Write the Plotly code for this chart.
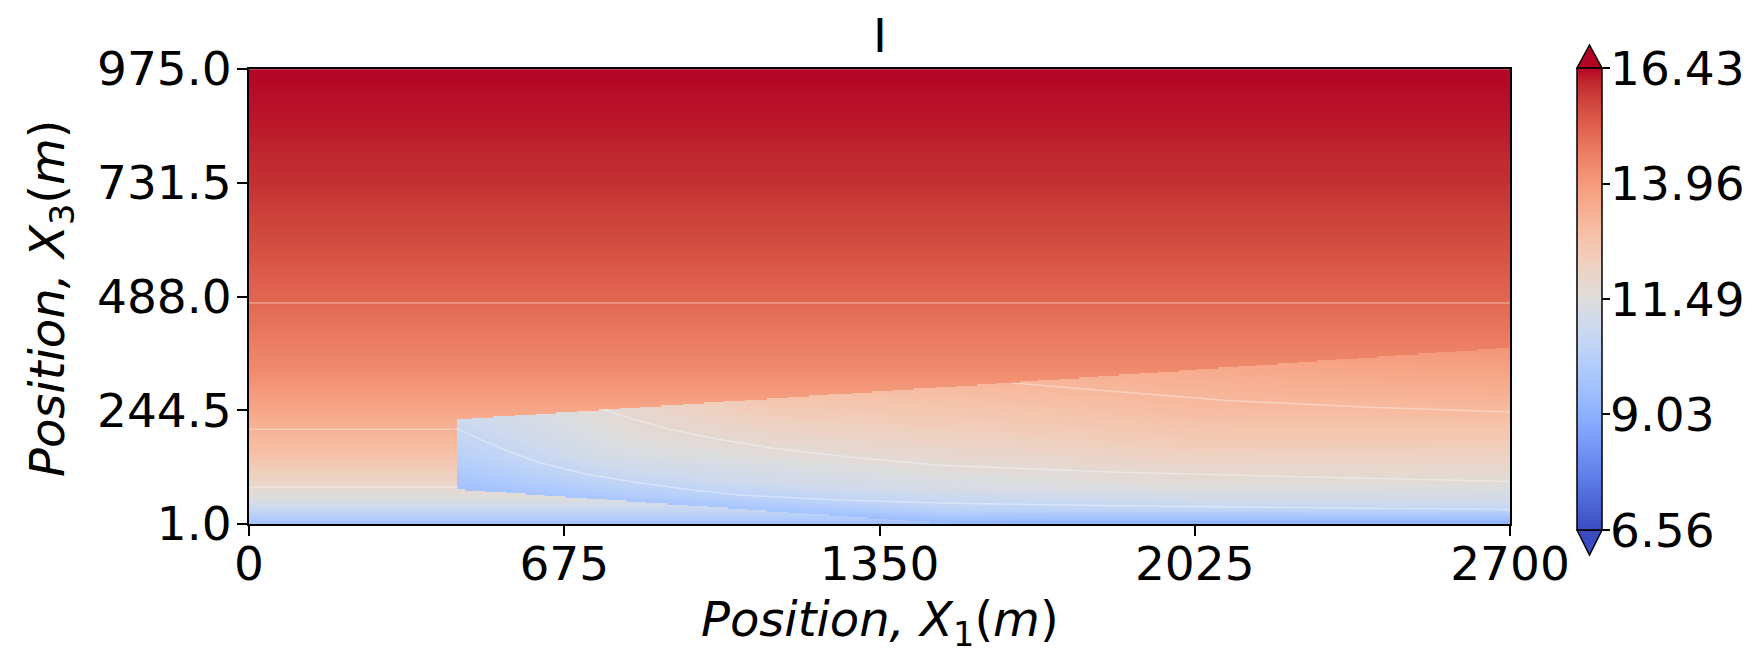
import numpy as np
import plotly.graph_objects as go

# ---------------- data ----------------
x_ticks = [0, 675, 1350, 2025, 2700]
y_ticks = [1.0, 244.5, 488.0, 731.5, 975.0]
y_ticklabels = ["1.0", "244.5", "488.0", "731.5", "975.0"]
cbar_ticks = [6.56, 9.03, 11.49, 13.96, 16.43]
cbar_ticklabels = ["6.56", "9.03", "11.49", "13.96", "16.43"]

# background vertical profile (depth -> value)
bg_depth = [1, 8, 27, 55, 97, 155, 226, 333, 476, 600, 731, 850, 975]
bg_value = [9.6, 9.9, 10.6, 11.5, 12.15, 12.9, 13.5, 14.35, 15.05, 15.55, 16.0, 16.25, 16.43]

# wedge body boundaries
wedge_top_x = [448, 1634, 2700]
wedge_top_y = [224, 303, 378]
wedge_bot_x = [448, 1500, 2700]
wedge_bot_y = [74, 1, 1]

# wedge values: columns along x, rows at relative height (0 = base, 1 = top)
wedge_col_x = [448, 800, 1122, 1634, 2025, 2700]
wedge_rel = [0.0, 0.1, 0.25, 0.5, 0.75, 1.0]
wedge_448 = [9.6, 9.75, 9.95, 10.3, 10.6, 10.9]
wedge_800 = [9.8, 10.2, 10.7, 11.3, 11.6, 11.8]
wedge_1122 = [9.7, 10.3, 11.0, 11.6, 12.15, 12.7]
wedge_1634 = [9.2, 10.4, 11.3, 12.0, 12.6, 13.2]
wedge_2025 = [9.1, 10.7, 11.6, 12.4, 13.05, 13.5]
wedge_2700 = [9.1, 10.8, 11.7, 12.6, 13.4, 14.1]

# faint mesh lines
line1_x = [0, 2700]
line1_y = [474, 474]
line2a_x = [0, 448]
line2a_y = [204, 204]
line2_x = [448, 500, 560, 623, 720, 837, 950, 1051, 1250, 1480, 1861, 2300, 2700]
line2_y = [204, 180, 155, 132, 108, 89, 74, 63, 53, 46, 40, 36, 32]
line3_x = [759, 820, 908, 1000, 1122, 1300, 1480, 1861, 2300, 2700]
line3_y = [246, 226, 202, 183, 163, 143, 127, 112, 101, 92]
line4_x = [1634, 1750, 1861, 2101, 2400, 2700]
line4_y = [303, 293, 284, 265, 251, 241]
line5_x = [0, 448]
line5_y = [80, 80]

# ---------------- build the field ----------------
xg = np.arange(0, 2701, 4.0)
yg = np.arange(1, 976, 3.0)
X, Y = np.meshgrid(xg, yg)
Z = np.interp(Y, bg_depth, bg_value)

wedge_table = np.array([wedge_448, wedge_800, wedge_1122, wedge_1634, wedge_2025, wedge_2700])
top = np.interp(xg, wedge_top_x, wedge_top_y)
bot = np.maximum(np.interp(xg, wedge_bot_x, wedge_bot_y), 1.0)
for j, xv in enumerate(xg):
    if xv < wedge_col_x[0]:
        continue
    col_vals = [np.interp(xv, wedge_col_x, wedge_table[:, k]) for k in range(len(wedge_rel))]
    inside = (yg >= bot[j]) & (yg <= top[j])
    s = (yg[inside] - bot[j]) / (top[j] - bot[j])
    Z[inside, j] = np.interp(s, wedge_rel, col_vals)
Z = np.round(Z, 3)

coolwarm = [
    (59, 76, 192), (68, 90, 204), (77, 104, 215), (87, 117, 225), (98, 130, 234),
    (108, 142, 241), (119, 154, 247), (130, 165, 251), (141, 176, 254), (152, 185, 255),
    (163, 194, 255), (174, 201, 253), (184, 208, 249), (194, 213, 244), (204, 217, 238),
    (213, 219, 230), (221, 221, 221), (229, 216, 209), (236, 211, 197), (241, 204, 184),
    (245, 196, 173), (247, 187, 160), (247, 177, 148), (247, 166, 135), (244, 154, 123),
    (241, 141, 111), (236, 127, 99), (229, 112, 88), (222, 96, 77), (213, 80, 66),
    (203, 62, 56), (192, 40, 47), (180, 4, 38)]
colorscale = [[i / (len(coolwarm) - 1), "rgb(%d,%d,%d)" % c] for i, c in enumerate(coolwarm)]

FONT = "DejaVu Sans"
FS = 47
TFS = 48

# pixel geometry of the plotting area
L, R, T, B = 249, 1510, 69, 524
W, H = 1754, 653
pw, ph = R - L, B - T
def px(xp):
    return (xp - L) / pw
def py(yp):
    return (B - yp) / ph

CB_TOP, CB_BOT = 68, 530
CMIN, CMAX = 6.56, 16.43

fig = go.Figure()
fig.add_trace(go.Heatmap(
    x=xg, y=yg, z=Z, zmin=CMIN, zmax=CMAX, colorscale=colorscale, zsmooth=False,
    hoverinfo="skip",
    colorbar=dict(
        x=px(1577), xanchor="left", xpad=0, ypad=0,
        y=py((CB_TOP + CB_BOT) / 2), yanchor="middle", len=CB_BOT - CB_TOP, lenmode="pixels",
        thickness=25, thicknessmode="pixels",
        outlinecolor="black", outlinewidth=1.5,
        tickvals=cbar_ticks, ticktext=cbar_ticklabels, showticklabels=False,
        ticks="outside", ticklen=8, tickwidth=2, tickcolor="black",
    ),
))

# colorbar tick labels
for v, t in zip(cbar_ticks, cbar_ticklabels):
    ypix = CB_BOT - (v - CMIN) / (CMAX - CMIN) * (CB_BOT - CB_TOP)
    fig.add_annotation(text=t, xref="paper", yref="paper", x=px(1608), y=py(ypix),
                       xanchor="left", yanchor="middle", showarrow=False,
                       font=dict(family=FONT, size=FS, color="black"))

for lx, ly in [(line1_x, line1_y), (line2a_x, line2a_y), (line2_x, line2_y),
               (line3_x, line3_y), (line4_x, line4_y), (line5_x, line5_y)]:
    fig.add_trace(go.Scatter(x=lx, y=ly, mode="lines",
                             line=dict(color="rgba(255,255,255,0.35)", width=1.5),
                             hoverinfo="skip", showlegend=False))

# colorbar extension triangles
fig.add_shape(type="path", xref="paper", yref="paper",
              path="M %f %f L %f %f L %f %f Z" % (px(1577), py(CB_TOP), px(1602), py(CB_TOP), px(1589.5), py(45)),
              fillcolor="rgb(180,4,38)", line=dict(color="black", width=1.5))
fig.add_shape(type="path", xref="paper", yref="paper",
              path="M %f %f L %f %f L %f %f Z" % (px(1577), py(CB_BOT), px(1602), py(CB_BOT), px(1589.5), py(555)),
              fillcolor="rgb(59,76,192)", line=dict(color="black", width=1.5))

axis_common = dict(showline=True, linecolor="black", linewidth=2, mirror=True,
                   ticks="outside", ticklen=10, tickwidth=2, tickcolor="black",
                   showgrid=False, zeroline=False,
                   tickfont=dict(family=FONT, size=FS, color="black"))
fig.update_xaxes(range=[0, 2700], tickvals=x_ticks, ticktext=[str(v) for v in x_ticks],
                 ticklabelstandoff=-12, **axis_common)
fig.update_yaxes(range=[1, 975], tickvals=y_ticks, ticktext=y_ticklabels,
                 ticklabelstandoff=-4, **axis_common)

fig.add_annotation(text="I", xref="paper", yref="paper", x=px(880), y=py(35),
                   showarrow=False, font=dict(family=FONT, size=FS, color="black"),
                   xanchor="center", yanchor="middle")
fig.add_annotation(text="<i>Position, X</i><sub>1</sub>(<i>m</i>)", xref="paper", yref="paper",
                   x=px(880), y=py(622), showarrow=False,
                   font=dict(family=FONT, size=TFS, color="black"), xanchor="center", yanchor="middle")
fig.add_annotation(text="<i>Position, X</i><sub>3</sub>(<i>m</i>)", xref="paper", yref="paper",
                   x=px(50), y=py(298), showarrow=False, textangle=-90,
                   font=dict(family=FONT, size=TFS, color="black"), xanchor="center", yanchor="middle")

fig.update_layout(width=W, height=H, margin=dict(l=L, r=W - R, t=T, b=H - B),
                  paper_bgcolor="white", plot_bgcolor="white", showlegend=False)

fig.write_html("out.html")
